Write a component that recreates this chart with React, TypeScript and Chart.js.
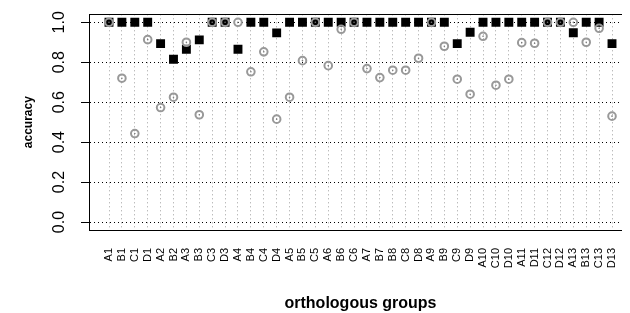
import React, { useEffect, useRef } from "react";
import { Chart, registerables } from "chart.js";

Chart.register(...registerables);

const categories = [
  "A1", "B1", "C1", "D1", "A2", "B2", "A3", "B3", "C3", "D3",
  "A4", "B4", "C4", "D4", "A5", "B5", "C5", "A6", "B6", "C6",
  "A7", "B7", "B8", "C8", "D8", "A9", "B9", "C9", "D9", "A10",
  "C10", "D10", "A11", "D11", "C12", "D12", "A13", "B13", "C13", "D13",
];

// black filled squares
const squareValues = [
  1.0, 1.0, 1.0, 1.0, 0.893, 0.815, 0.865, 0.912, 1.0, 1.0,
  0.865, 1.0, 1.0, 0.947, 1.0, 1.0, 1.0, 1.0, 1.0, 1.0,
  1.0, 1.0, 1.0, 1.0, 1.0, 1.0, 1.0, 0.893, 0.95, 1.0,
  1.0, 1.0, 1.0, 1.0, 1.0, 1.0, 0.948, 1.0, 1.0, 0.893,
];

// grey open circles
const circleValues = [
  1.0, 0.72, 0.443, 0.913, 0.573, 0.625, 0.9, 0.537, 1.0, 1.0,
  1.0, 0.752, 0.852, 0.515, 0.625, 0.808, 1.0, 0.783, 0.965, 1.0,
  0.768, 0.723, 0.76, 0.76, 0.82, 1.0, 0.88, 0.715, 0.64, 0.93,
  0.685, 0.715, 0.898, 0.895, 1.0, 1.0, 1.0, 0.9, 0.97, 0.53,
];

const yTicks = [0, 0.2, 0.4, 0.6, 0.8, 1.0];

const FONT = "'Liberation Sans', Arial, Helvetica, sans-serif";

export default function App() {
  const ref = useRef<HTMLCanvasElement | null>(null);

  useEffect(() => {
    if (!ref.current) return;
    const boxPlugin = {
      id: "box",
      afterDraw(chart: any) {
        const { ctx, chartArea } = chart;
        ctx.save();
        ctx.strokeStyle = "#000";
        ctx.lineWidth = 1;
        ctx.setLineDash([]);
        ctx.strokeRect(
          Math.round(chartArea.left) + 0.5,
          Math.round(chartArea.top) + 0.5,
          Math.round(chartArea.right - chartArea.left),
          Math.round(chartArea.bottom - chartArea.top)
        );
        ctx.restore();
      },
    };

    const chart = new Chart(ref.current, {
      type: "scatter",
      data: {
        datasets: [
          {
            label: "squares",
            data: squareValues.map((v, i) => ({ x: i, y: v })),
            pointStyle: "rect",
            pointRadius: 6.3,
            pointHoverRadius: 6.3,
            backgroundColor: "#000",
            borderWidth: 0,
            order: 3,
          },
          {
            label: "circles",
            data: circleValues.map((v, i) => ({ x: i, y: v })),
            pointStyle: "circle",
            pointRadius: 3.8,
            pointHoverRadius: 3.8,
            backgroundColor: "rgba(0,0,0,0)",
            borderColor: "#999999",
            borderWidth: 2,
            order: 2,
          },
          {
            label: "centres",
            data: circleValues.map((v, i) => ({ x: i, y: v })),
            pointStyle: "circle",
            pointRadius: 0.8,
            pointHoverRadius: 0.8,
            backgroundColor: "#777",
            borderWidth: 0,
            order: 1,
          },
        ],
      },
      options: {
        animation: false,
        responsive: false,
        devicePixelRatio: 1,
        layout: { padding: { left: 0, top: 6, right: 16, bottom: 0 } },
        plugins: {
          legend: { display: false },
          tooltip: { enabled: false },
        },
        scales: {
          x: {
            type: "linear",
            min: -1.551,
            max: 40.55,
            afterBuildTicks: (scale: any) => {
              scale.ticks = categories.map((_, i) => ({ value: i }));
            },
            afterFit: (scale: any) => {
              scale.height = 83;
              scale.paddingLeft = 0;
              scale.paddingRight = 0;
            },
            ticks: {
              autoSkip: false,
              minRotation: 90,
              maxRotation: 90,
              padding: 18,
              color: "#000",
              font: { family: FONT, size: 11 },
              callback: (v: any) => categories[Math.round(Number(v))] ?? "",
            },
            grid: {
              drawTicks: false,
              color: "#a0a0a0",
              lineWidth: 1,
            },
            border: { display: true, color: "#000", width: 1, dash: [1, 3] },
            title: {
              display: true,
              text: "orthologous groups",
              color: "#000",
              font: { family: FONT, size: 16, weight: "bold" },
              padding: { top: 0, bottom: 0 },
            },
          },
          y: {
            type: "linear",
            min: -0.04,
            max: 1.04,
            afterBuildTicks: (scale: any) => {
              scale.ticks = yTicks.map((v) => ({ value: v }));
            },
            afterFit: (scale: any) => {
              scale.width = 81;
              scale.paddingTop = 0;
              scale.paddingBottom = 0;
            },
            ticks: {
              minRotation: 90,
              maxRotation: 90,
              crossAlign: "center",
              padding: 10,
              color: "#000",
              font: { family: FONT, size: 16 },
              callback: (v: any) => Number(v).toFixed(1),
            },
            grid: {
              color: "#000",
              lineWidth: 1,
              drawTicks: true,
              tickLength: 8,
              tickColor: "#000",
              tickBorderDash: [],
            },
            border: { display: true, color: "#000", width: 1, dash: [1, 3] },
            title: {
              display: true,
              text: "accuracy",
              color: "#000",
              font: { family: FONT, size: 12, weight: "bold" },
              padding: { top: 13, bottom: 0 },
            },
          },
        },
      },
      plugins: [boxPlugin],
    } as any);

    return () => chart.destroy();
  }, []);

  return (
    <div style={{ width: 622, height: 305, overflow: "hidden" }}>
      <canvas ref={ref} width={640} height={305} style={{ display: "block", width: 640, height: 305 }} />
    </div>
  );
}
